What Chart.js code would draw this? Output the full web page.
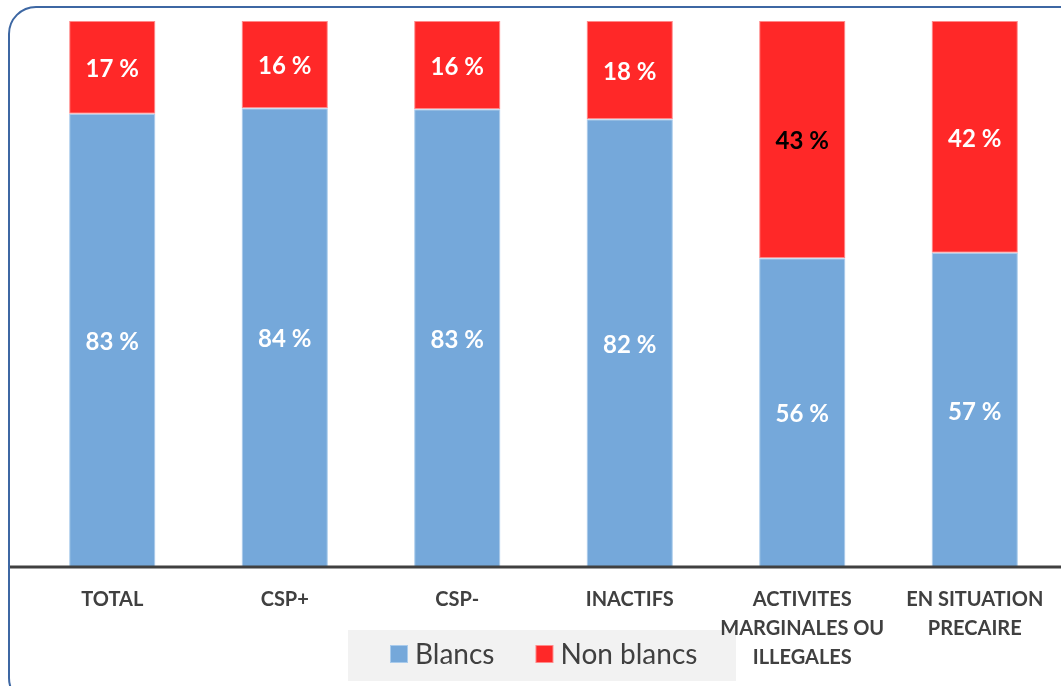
<!DOCTYPE html>
<html>
<head>
<meta charset="utf-8">
<script src="https://cdn.jsdelivr.net/npm/chart.js@4/dist/chart.umd.min.js"></script>
<style>
  html, body { margin: 0; padding: 0; background: #fff; overflow: hidden; }
  #wrap { position: relative; width: 1061px; height: 686px; overflow: hidden; }
  #frame {
    position: absolute; left: 8px; top: 6px; width: 1100px; height: 700px;
    border: 2.5px solid #3D67A3; border-radius: 28px; box-sizing: border-box;
  }
  #myChart { position: absolute; left: 0; top: 0; }
</style>
</head>
<body>
<div id="wrap">
  <div id="frame"></div>
  <canvas id="myChart" width="1061" height="686"></canvas>
</div>
<script>
// categories et valeurs
const categories = [
  "TOTAL",
  "CSP+",
  "CSP-",
  "INACTIFS",
  ["ACTIVITES", "MARGINALES OU", "ILLEGALES"],
  ["EN SITUATION", "PRECAIRE"]
];
const blancs = [83, 84, 83, 82, 56, 57];
const nonBlancs = [17, 16, 16, 18, 43, 42];
// couleur du texte des étiquettes rouges (43 % est en noir)
const nonBlancsLabelColors = ["#fff", "#fff", "#fff", "#fff", "#000", "#fff"];

const BLUE = "#75A8DA";
const RED = "#FF2828";
const TEXT = "#404040";
const FONT = "Lato, 'Open Sans', sans-serif";

// barres à 100 % : on ramène chaque catégorie à un total de 100
const totals = blancs.map((v, i) => v + nonBlancs[i]);
const blancsPct = blancs.map((v, i) => v / totals[i] * 100);
const nonBlancsPct = nonBlancs.map((v, i) => v / totals[i] * 100);

// fond gris + légende dessinés avant le reste
const legendPlugin = {
  id: "legendBox",
  beforeDraw(chart) {
    const ctx = chart.ctx;
    ctx.save();
    ctx.fillStyle = "#F2F2F2";
    ctx.fillRect(348, 630, 388, 51);
    ctx.font = "28px " + FONT;
    ctx.textBaseline = "middle";
    let x = 390;
    chart.data.datasets.forEach((ds) => {
      ctx.fillStyle = ds.borderColor;
      ctx.fillRect(x, 645, 18, 18);
      ctx.fillStyle = ds.backgroundColor;
      ctx.fillRect(x + 1, 646, 16, 16);
      ctx.fillStyle = TEXT;
      ctx.fillText(ds.label, x + 25, 655);
      x += 25 + ctx.measureText(ds.label).width + 41;
    });
    ctx.restore();
  }
};

// axe horizontal + étiquettes au centre des segments
const labelsPlugin = {
  id: "barLabels",
  afterDraw(chart) {
    const ctx = chart.ctx;
    const y0 = chart.scales.y.getPixelForValue(0);
    ctx.save();
    ctx.strokeStyle = TEXT;
    ctx.lineWidth = 3;
    ctx.beginPath();
    ctx.moveTo(10, y0);
    ctx.lineTo(chart.width, y0);
    ctx.stroke();

    ctx.font = "bold 24px " + FONT;
    ctx.textAlign = "center";
    ctx.textBaseline = "middle";
    chart.data.datasets.forEach((ds, di) => {
      const meta = chart.getDatasetMeta(di);
      meta.data.forEach((bar, i) => {
        const p = bar.getProps(["x", "y", "base"], true);
        ctx.fillStyle = ds.labelColors ? ds.labelColors[i] : "#fff";
        ctx.fillText(ds.rawValues[i] + " %", p.x, (p.y + p.base) / 2 + 2);
      });
    });
    ctx.restore();
  }
};

const ctx = document.getElementById("myChart").getContext("2d");
new Chart(ctx, {
  type: "bar",
  data: {
    labels: categories,
    datasets: [
      {
        label: "Blancs",
        data: blancsPct,
        rawValues: blancs,
        backgroundColor: BLUE,
        borderColor: "#A9CBEC",
        borderWidth: 1,
        borderSkipped: false,
        categoryPercentage: 1,
        barPercentage: 0.5
      },
      {
        label: "Non blancs",
        data: nonBlancsPct,
        rawValues: nonBlancs,
        labelColors: nonBlancsLabelColors,
        backgroundColor: RED,
        borderColor: "#FF8A8A",
        borderWidth: 1,
        borderSkipped: false,
        categoryPercentage: 1,
        barPercentage: 0.5
      }
    ]
  },
  options: {
    responsive: false,
    animation: false,
    events: [],
    layout: { padding: { left: 26, right: 0, top: 21, bottom: 0 } },
    plugins: {
      legend: { display: false },
      tooltip: { enabled: false }
    },
    scales: {
      x: {
        stacked: true,
        grid: { display: false },
        border: { display: false },
        ticks: {
          color: TEXT,
          padding: 10,
          maxRotation: 0,
          autoSkip: false,
          font: { family: FONT, size: 20, weight: "bold", lineHeight: 1.45 }
        },
        afterFit(scale) { scale.height = 119; }
      },
      y: {
        stacked: true,
        display: false,
        min: 0,
        max: 100
      }
    }
  },
  plugins: [legendPlugin, labelsPlugin]
});
</script>
</body>
</html>
